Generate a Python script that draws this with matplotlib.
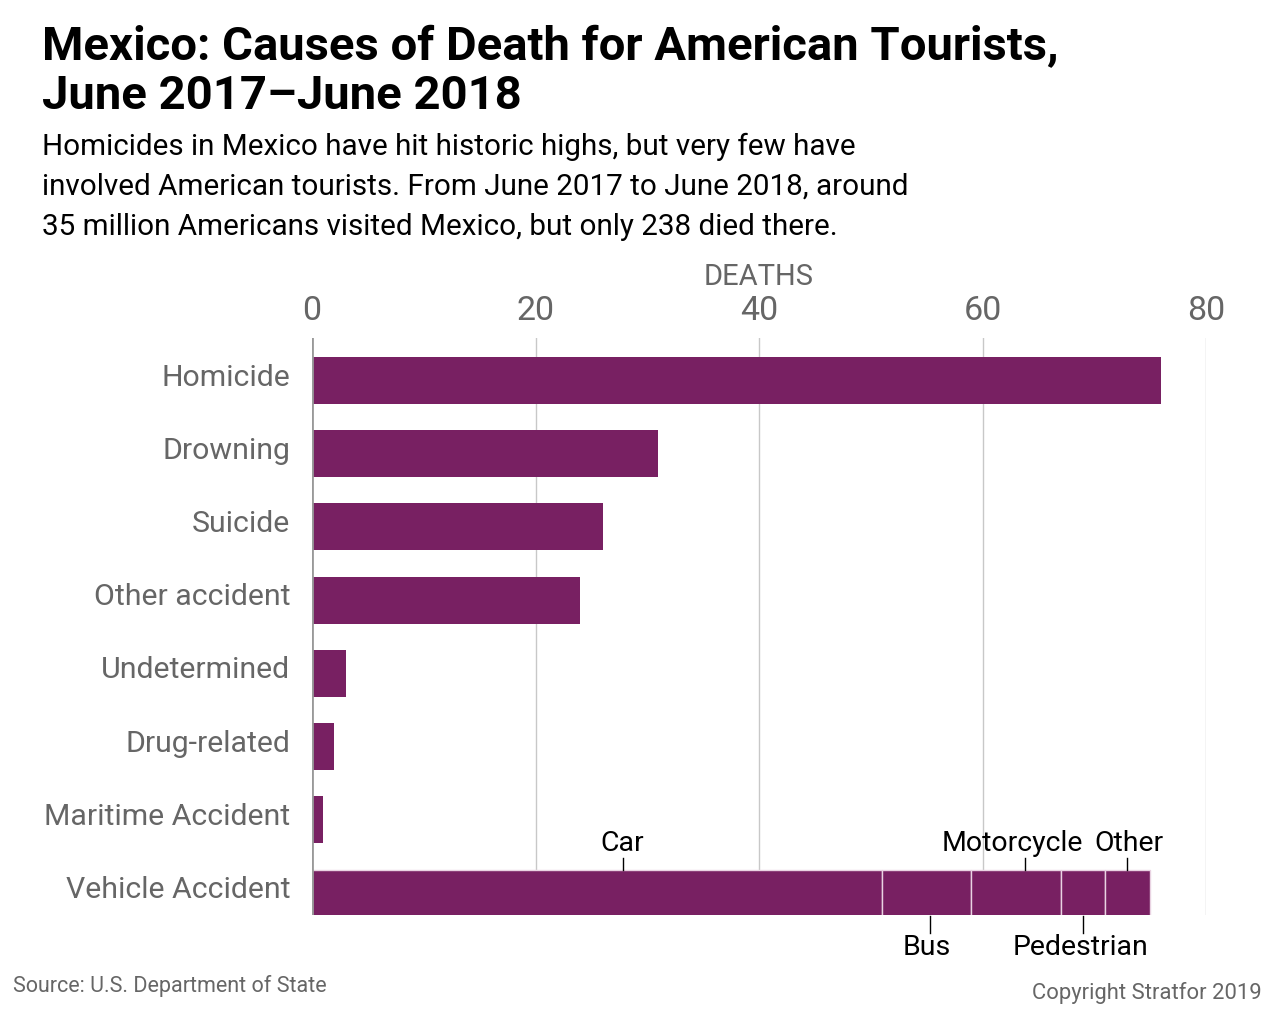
import matplotlib
matplotlib.use("Agg")
from matplotlib import pyplot as plt
import numpy as np

# datos
causes = ["Homicide", "Drowning", "Suicide", "Other accident", "Undetermined",
          "Drug-related", "Maritime Accident", "Vehicle Accident"]
deaths = [76, 31, 26, 24, 3, 2, 1, 0]   # vehicle drawn as stacked segments

vehicle_types = ["Car", "Bus", "Motorcycle", "Pedestrian", "Other"]
vehicle_deaths = [51, 8, 8, 4, 4]

xticks = [0, 20, 40, 60, 80]

BAR = "#782062"
GRAY = "#666666"
fam = ["Roboto", "DejaVu Sans"]

fig = plt.figure(figsize=(12.8, 10.17), dpi=100)
W, H = 1280, 1017
ax = fig.add_axes([312 / W, (H - 915) / H, (1206 - 312) / W, (915 - 338) / H])

y = np.arange(len(causes))
ax.barh(y[:-1], deaths[:-1], height=0.64, color=BAR, zorder=3)

# barra apilada de accidentes de vehiculo
left = 0
for v in vehicle_deaths:
    ax.barh(y[-1], v, left=left, height=0.64, color=BAR,
            edgecolor="#e9d3e2", linewidth=1, zorder=3)
    left += v

ax.set_xlim(0, 80)
ax.set_ylim(7.30, -0.58)
for s in ax.spines.values():
    s.set_visible(False)
for t in xticks[1:]:
    ax.axvline(t, color="#c8c8c8", lw=1, zorder=1)
ax.axvline(0, color="#999999", lw=2, zorder=4)

ax.xaxis.tick_top()
ax.set_xticks(xticks)
ax.set_xticklabels([str(t) for t in xticks], family=fam, fontsize=24.5, color=GRAY)
ax.tick_params(axis="x", length=0, pad=8)
ax.set_yticks([])
for yi, name in zip(y, causes):
    ax.text(-1.95, yi - 0.04, name, family=fam, fontsize=21.8, color=GRAY,
            ha="right", va="center")

fig.text(759 / W, 1 - 277 / H, "DEATHS", family=fam, fontsize=21, color=GRAY,
         ha="center", va="center")

# etiquetas de segmentos
tick_x = [27.8, 55.3, 63.8, 69.0, 72.9]
text_x = [27.8, 55.0, 62.7, 68.8, 73.1]
above = [True, False, True, False, True]
for name, tx, lx, up in zip(vehicle_types, tick_x, text_x, above):
    if up:
        ax.plot([tx, tx], [6.52, 6.68], color="black", lw=1, zorder=5, clip_on=False)
        ax.text(lx, 6.32, name, family=fam, fontsize=20.5, color="black",
                ha="center", va="center")
    else:
        ax.plot([tx, tx], [7.32, 7.54], color="black", lw=1, zorder=5, clip_on=False)
        ax.text(lx, 7.74, name, family=fam, fontsize=20.5, color="black",
                ha="center", va="center", clip_on=False)

# titulo y subtitulo
fig.text(42 / W, 1 - 47 / H, "Mexico: Causes of Death for American Tourists,",
         family=fam, fontsize=34, fontweight="bold", color="black", va="center")
fig.text(42 / W, 1 - 96 / H, "June 2017\u2013June 2018",
         family=fam, fontsize=34, fontweight="bold", color="black", va="center")
sub = ["Homicides in Mexico have hit historic highs, but very few have",
       "involved American tourists. From June 2017 to June 2018, around",
       "35 million Americans visited Mexico, but only 238 died there."]
for i, line in enumerate(sub):
    fig.text(42 / W, 1 - (147 + 40 * i) / H, line, family=fam, fontsize=21.3,
             color="black", va="center")

fig.text(13 / W, 1 - 986 / H, "Source: U.S. Department of State", family=fam,
         fontsize=15.5, color=GRAY, va="center")
fig.text(1262 / W, 1 - 993 / H, "Copyright Stratfor 2019", family=fam,
         fontsize=15.8, color=GRAY, va="center", ha="right")

fig.savefig("out.png", dpi=100)
